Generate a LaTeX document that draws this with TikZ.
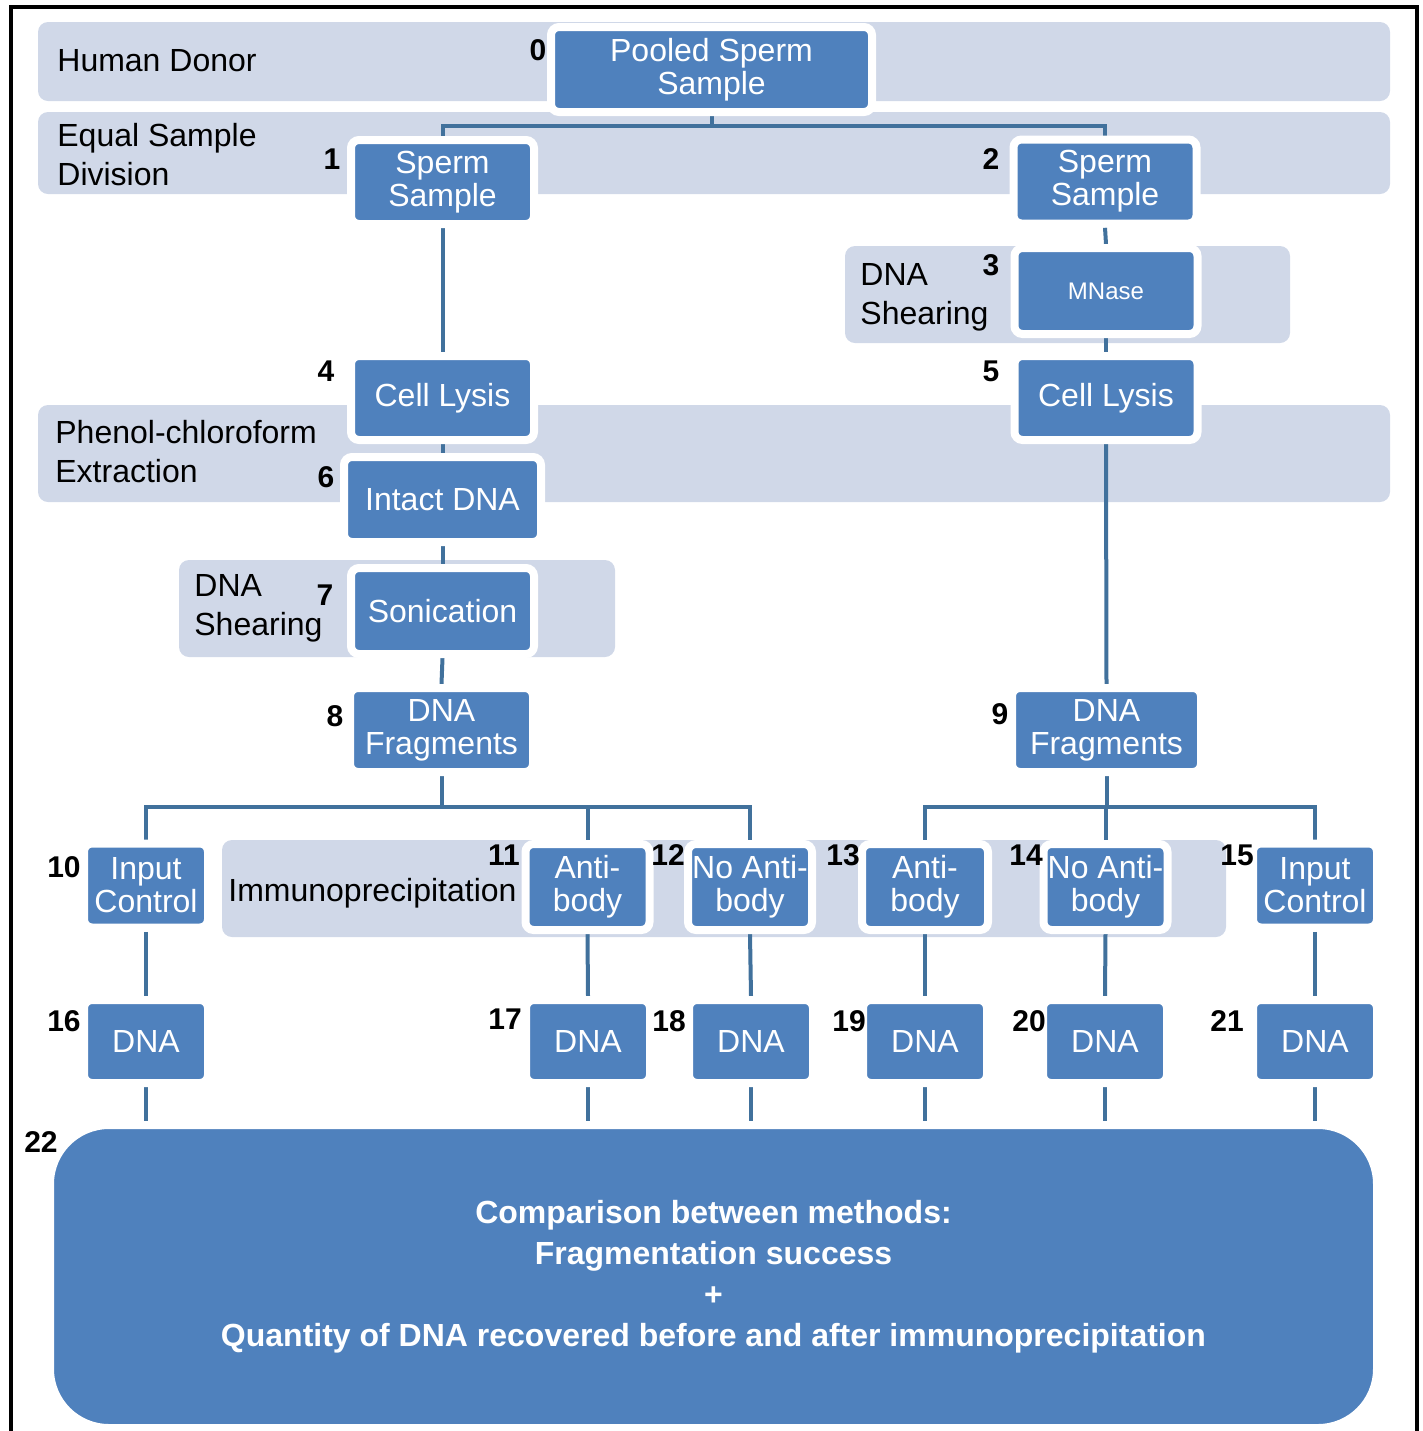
\documentclass[tikz,border=0pt]{standalone}
\usepackage{fontspec}
\setmainfont{Liberation Sans}
\usetikzlibrary{positioning}
\definecolor{boxblue}{HTML}{4F81BD}
\definecolor{bandgray}{HTML}{D0D8E8}
\definecolor{linkblue}{HTML}{41719C}
\pgfdeclarelayer{bands}
\pgfdeclarelayer{links}
\pgfsetlayers{bands,links,main}
\tikzset{
  band/.style={fill=bandgray,rounded corners=5pt},
  bandlbl/.style={anchor=west,inner sep=0pt,align=left,font=\fontsize{16}{19.5}\selectfont},
  stepbox/.style={rectangle,rounded corners=4pt,fill=boxblue,draw=white,line width=4pt,text=white,inner sep=0pt,align=center,font=\fontsize{16}{16.5}\selectfont,minimum width=91.5pt,minimum height=42pt},
  smallbox/.style={stepbox,minimum width=62pt},
  numlbl/.style={inner sep=0pt,font=\fontsize{15}{15}\selectfont\bfseries},
  link/.style={draw=linkblue,line width=2pt},
  frame/.style={draw=black,line width=2pt}
}
\begin{document}
\begin{tikzpicture}[x=0.5pt,y=-0.5pt]
\useasboundingbox (0,0) rectangle (1423,1431);
\draw[frame] (11,1431) |- (1417,7) -- (1417,1431);
% grey bands
\begin{pgfonlayer}{bands}
\fill[band] (38,22) rectangle (1390,101);
\fill[band] (38,112) rectangle (1390,194);
\fill[band] (845,246) rectangle (1290,343);
\fill[band] (38,405) rectangle (1390,502);
\fill[band] (179,560) rectangle (615,657);
\fill[band] (222,840) rectangle (1226,937);
\end{pgfonlayer}
\node at (57,61)[bandlbl](lDonor){Human Donor};
\node at (57,155)[bandlbl](lDivision){Equal Sample\\Division};
\node at (860,297)[bandlbl](lShearR){DNA\\Shearing};
\node at (55,452)[bandlbl](lExtract){Phenol-chloroform\\Extraction};
\node at (194,608)[bandlbl](lShearL){DNA\\Shearing};
\node at (228,893)[bandlbl](lIP){Immunoprecipitation};
% steps
\node at (711.5,69.5)[stepbox,minimum width=160.5pt,minimum height=42.5pt](b0){Pooled Sperm\\Sample};
\node at (442.5,182)[stepbox](b1){Sperm\\Sample};
\node at (1105,181.5)[stepbox](b2){Sperm\\Sample};
\node at (1106,291)[stepbox,minimum height=43pt,font=\fontsize{12}{14}\selectfont](b3){MNase};
\node at (442.5,398)[stepbox](b4){Cell Lysis};
\node at (1106,398)[stepbox](b5){Cell Lysis};
\node at (442.5,499.5)[stepbox,minimum width=98.5pt,minimum height=42.5pt](b6){Intact DNA};
\node at (442.5,611)[stepbox,minimum height=43pt](b7){Sonication};
\node at (441.5,730)[stepbox](b8){DNA\\Fragments};
\node at (1106.5,730)[stepbox,minimum width=94.5pt](b9){DNA\\Fragments};
\node at (146,885.5)[smallbox](b10){Input\\Control};
\node at (587.5,887)[smallbox,minimum height=43pt](b11){Anti-\\body};
\node at (750,887)[smallbox,minimum height=43pt](b12){No Anti-\\body};
\node at (925,887)[smallbox,minimum width=63pt,minimum height=43pt](b13){Anti-\\body};
\node at (1105.5,887)[smallbox,minimum height=43pt](b14){No Anti-\\body};
\node at (1315,885.5)[smallbox](b15){Input\\Control};
\node at (146,1041.5)[smallbox,minimum height=41.5pt](b16){DNA};
\node at (588,1041.5)[smallbox,minimum height=41.5pt](b17){DNA};
\node at (751,1041.5)[smallbox,minimum height=41.5pt](b18){DNA};
\node at (925,1041.5)[smallbox,minimum height=41.5pt](b19){DNA};
\node at (1105,1041.5)[smallbox,minimum height=41.5pt](b20){DNA};
\node at (1315,1041.5)[smallbox,minimum height=41.5pt](b21){DNA};
\node at (713.5,1276.5)[stepbox,minimum width=663.5pt,minimum height=151.5pt,rounded corners=29.5pt,font=\fontsize{16}{20.5}\selectfont\bfseries](b22){Comparison between methods:\\Fragmentation success\\+\\Quantity of DNA recovered before and after immunoprecipitation};
% step numbers
\node at (538,50)[numlbl](n0){0};
\node at (332,159)[numlbl](n1){1};
\node at (991,159)[numlbl](n2){2};
\node at (991,265)[numlbl](n3){3};
\node at (326,371)[numlbl](n4){4};
\node at (991,371)[numlbl](n5){5};
\node at (326,477)[numlbl](n6){6};
\node at (325,595)[numlbl](n7){7};
\node at (335,716)[numlbl](n8){8};
\node at (1000,714)[numlbl](n9){9};
\node at (64,867)[numlbl](n10){10};
\node at (504,855)[numlbl](n11){11};
\node at (668,855)[numlbl](n12){12};
\node at (843,855)[numlbl](n13){13};
\node at (1026,855)[numlbl](n14){14};
\node at (1237,855)[numlbl](n15){15};
\node at (64,1021)[numlbl](n16){16};
\node at (505,1019)[numlbl](n17){17};
\node at (669,1021)[numlbl](n18){18};
\node at (849,1021)[numlbl](n19){19};
\node at (1029,1021)[numlbl](n20){20};
\node at (1227,1021)[numlbl](n21){21};
\node at (41,1142)[numlbl](n22){22};
% connectors
\coordinate (j0) at (711.5,126);
\coordinate (j8) at (441.5,807);
\coordinate (j9) at (1106.5,807);
\begin{pgfonlayer}{links}
\draw[link] (b0.south) -- (j0) -| (b1.north);
\draw[link] (j0) -| (b2.north);
\draw[link] (b1.south) -- (b4.north);
\draw[link] (b4.south) -- (b6.north);
\draw[link] (b6.south) -- (b7.north);
\draw[link] (b7.south) -- (b8.north);
\draw[link] (b2.south) -- (b3.north);
\draw[link] (b3.south) -- (b5.north);
\draw[link] (b5.south) -- (b9.north);
\draw[link] (b8.south) -- (j8) -| (b10.north);
\draw[link] (j8) -| (b11.north);
\draw[link] (j8) -| (b12.north);
\draw[link] (b9.south) -- (j9) -| (b13.north);
\draw[link] (j9) -| (b14.north);
\draw[link] (j9) -| (b15.north);
\draw[link] (b10.south) -- (b16.north);
\draw[link] (b11.south) -- (b17.north);
\draw[link] (b12.south) -- (b18.north);
\draw[link] (b13.south) -- (b19.north);
\draw[link] (b14.south) -- (b20.north);
\draw[link] (b15.south) -- (b21.north);
\draw[link] (b16.south) -- (b16.south |- b22.north);
\draw[link] (b17.south) -- (b17.south |- b22.north);
\draw[link] (b18.south) -- (b18.south |- b22.north);
\draw[link] (b19.south) -- (b19.south |- b22.north);
\draw[link] (b20.south) -- (b20.south |- b22.north);
\draw[link] (b21.south) -- (b21.south |- b22.north);
\end{pgfonlayer}
\end{tikzpicture}
\end{document}
